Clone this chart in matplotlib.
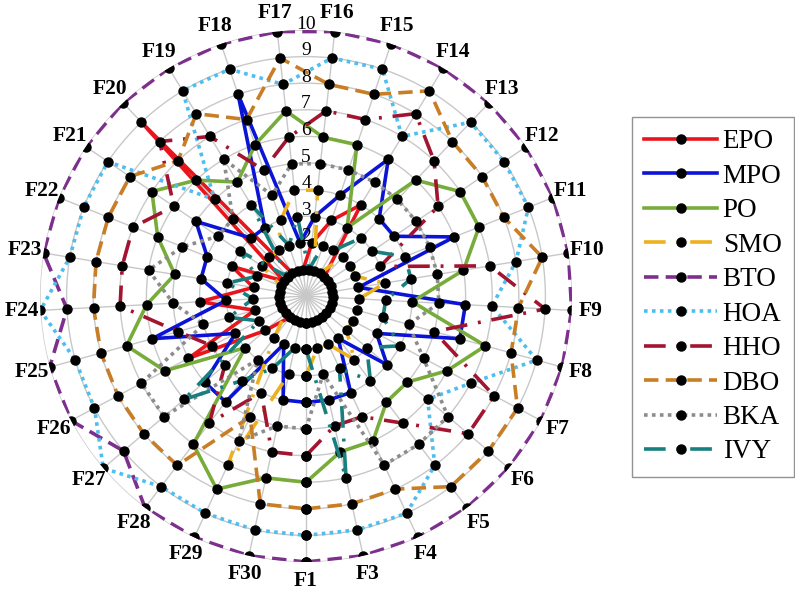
import numpy as np
import matplotlib
matplotlib.use('Agg')
import matplotlib.pyplot as plt

functions = ['F1'] + ['F%d' % i for i in range(3, 31)]

EPO = [1,1,1,1,1,1,1,1,1,1,1,1,4,3,2,1,1,1,9,1,3,2,4,2,5,2,1,1,1]
MPO = [4,4,4,2,4,3,6,6,2,6,4,4,6,4,3,2,8,3,3,5,4,4,3,6,3,5,5,2,4]
PO  = [7,6,6,5,5,6,7,4,6,7,7,6,3,6,6,7,6,5,6,7,6,5,6,7,6,3,7,8,7]
SMO = [3,2,2,3,2,2,2,2,3,2,2,2,1,1,4,4,3,2,2,2,1,1,1,1,1,1,2,7,3]
BTO = [10,10,10,10,10,10,10,10,10,10,10,10,10,10,10,10,10,10,10,10,10,10,9,10,10,9,10,10,10]
HOA = [9,9,9,8,6,7,9,7,8,9,9,9,7,9,9,8,9,9,5,9,9,9,10,9,9,10,9,9,9]
HHO = [6,5,5,6,8,8,5,9,7,3,6,7,8,7,7,6,5,7,8,6,7,7,7,5,4,4,6,4,6]
DBO = [8,8,8,9,9,9,8,8,9,8,8,8,9,8,8,9,7,8,7,8,8,8,8,8,8,8,8,5,8]
BKA = [5,3,7,7,7,5,4,5,5,5,5,5,5,5,5,5,4,6,4,4,5,6,5,4,7,7,3,6,5]
IVY = [2,7,3,4,3,4,3,3,4,4,3,3,2,2,1,3,2,4,1,3,2,3,2,3,2,6,4,3,2]

names = ['EPO', 'MPO', 'PO', 'SMO', 'BTO', 'HOA', 'HHO', 'DBO', 'BKA', 'IVY']
series = [EPO, MPO, PO, SMO, BTO, HOA, HHO, DBO, BKA, IVY]
colors = ['#e8161c', '#0b14d6', '#77ac3a', '#edb120', '#7e2f8e',
          '#4dbeee', '#a2142f', '#c97d25', '#8c8c8c', '#17807f']
styles = ['-', '-', '-', (0, (6, 3, 0.8, 3)), (0, (4, 2)), (0, (1, 1.2)),
          (0, (6, 3, 0.8, 3)), (0, (4, 2)), (0, (1, 1.2)), (0, (6, 3, 0.8, 3))]

plt.rcParams['font.family'] = ['Liberation Serif', 'DejaVu Serif']

fig = plt.figure(figsize=(7.95, 5.91), dpi=100)
ax = fig.add_axes([40/795, 29/591, 532/795, 532/591], projection='polar')
ax.set_theta_zero_location('S')
ax.set_theta_direction(1)

n = len(functions)
ang = np.arange(n) * 2 * np.pi / n
ang_c = np.concatenate([ang, ang[:1]])

ax.set_ylim(0, 10)
ax.set_yticks(range(1, 11))
ax.set_yticklabels([])
ax.set_xticks(ang)
ax.set_xticklabels(functions, fontsize=15.5, fontweight='bold')
ax.tick_params(axis='x', pad=3)
ax.grid(color='#c8c8c8', linewidth=1.0)
ax.spines['polar'].set_visible(False)

handles = []
for vals, name, c, ls in zip(series, names, colors, styles):
    v = np.concatenate([vals, vals[:1]])
    h, = ax.plot(ang_c, v, color=c, linestyle=ls, linewidth=2.6,
                 marker='o', markersize=6.5, markerfacecolor='black',
                 markeredgecolor='black', label=name)
    handles.append(h)

for r in range(2, 11):
    ax.text(np.pi, r + 0.22, str(r), ha='center', va='center', fontsize=14)

fig.legend(handles=handles, loc='upper left',
           bbox_to_anchor=(632/795, 1 - 117/591), fontsize=19.5,
           frameon=True, fancybox=False, edgecolor='#777777',
           handlelength=2.7, labelspacing=0.35, borderpad=0.45,
           handletextpad=0.2, borderaxespad=0.0)

fig.savefig('out.png', dpi=100)
